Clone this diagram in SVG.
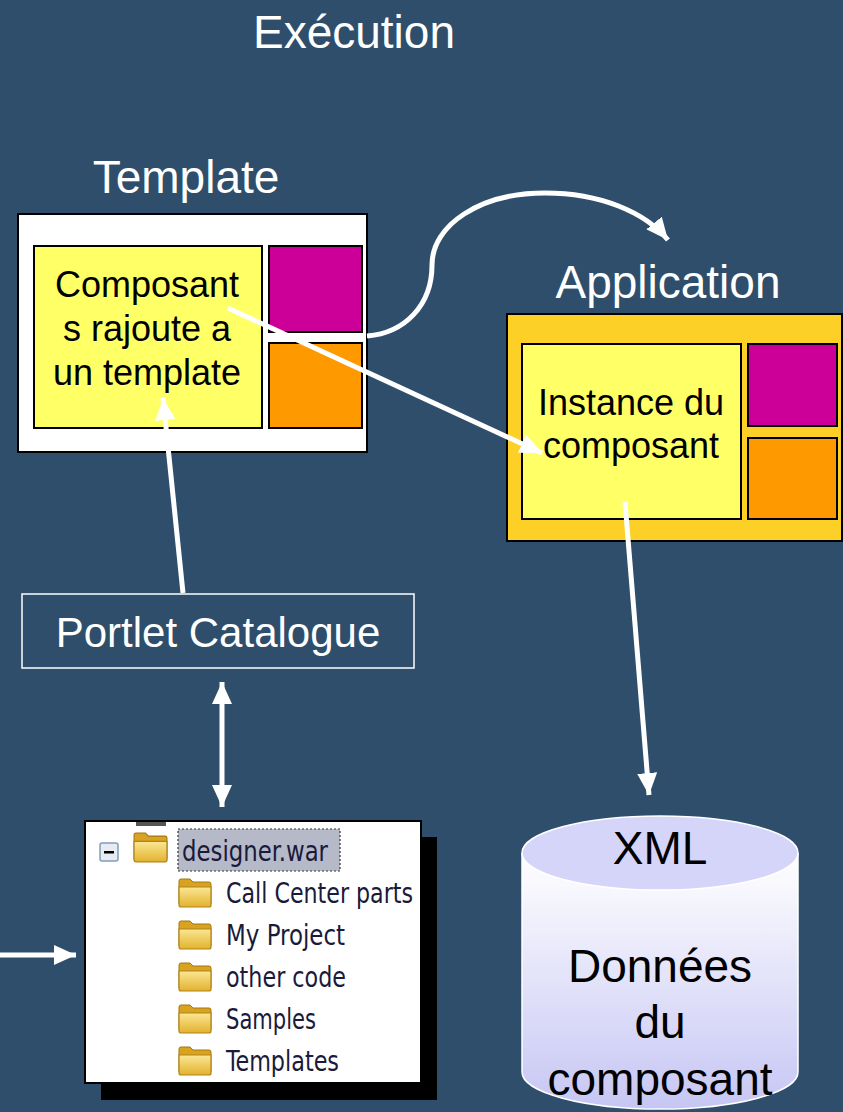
<svg xmlns="http://www.w3.org/2000/svg" width="843" height="1112" viewBox="0 0 843 1112">
<style>
.title{font-family:"Liberation Sans",Arial,sans-serif;font-size:46px;fill:#fff;text-anchor:middle}
.lbl{font-family:"Liberation Sans",Arial,sans-serif;font-size:36px;fill:#000;text-anchor:middle}
.db{font-family:"Liberation Sans",Arial,sans-serif;font-size:46px;fill:#000;text-anchor:middle}
.tree{font-family:"DejaVu Sans Condensed","DejaVu Sans",sans-serif;font-size:28px;fill:#1a1a3a}
.box{stroke:#000;stroke-width:2}
.conn{fill:none;stroke:#fff;stroke-width:5}
</style>
<defs>
<marker id="ah" markerUnits="userSpaceOnUse" markerWidth="24" markerHeight="22" viewBox="0 0 24 22" refX="22" refY="11" orient="auto-start-reverse">
<path d="M0,1 L22,11 L0,21 z" fill="#fff"/>
</marker>
<linearGradient id="cyl" x1="0" y1="0" x2="0" y2="1">
<stop offset="0" stop-color="#ffffff"/>
<stop offset="1" stop-color="#c6c6f4"/>
</linearGradient>
<linearGradient id="fold" x1="0" y1="0" x2="0" y2="1">
<stop offset="0" stop-color="#fbe795"/>
<stop offset="1" stop-color="#e2b22e"/>
</linearGradient>
<g id="folder">
<path d="M1,3 Q1,1 3,1 H12 L15,4 H31 Q33,4 33,6 V26 H1 Z" fill="#d9a21f" stroke="#a37612" stroke-width="1"/>
<path d="M1,9 H33 V27 Q33,29 31,29 H3 Q1,29 1,27 Z" fill="url(#fold)" stroke="#b0841a" stroke-width="1.2"/>
</g>
</defs>
<rect width="843" height="1112" fill="#2e4e6b"/>

<text class="title" x="354" y="48">Exécution</text>

<g id="template">
<text class="title" x="186" y="193">Template</text>
<rect class="box" x="18" y="214" width="349" height="238" fill="#fff"/>
<rect class="box" x="34" y="246" width="228" height="182" fill="#ffff66"/>
<rect class="box" x="269" y="246" width="93" height="86" fill="#cc0099"/>
<rect class="box" x="269" y="343" width="93" height="85" fill="#ff9900"/>
<text class="lbl" x="147" y="297">Composant</text>
<text class="lbl" x="147" y="341">s rajoute a</text>
<text class="lbl" x="147" y="385">un template</text>
</g>

<g id="application">
<text class="title" x="668" y="298">Application</text>
<rect class="box" x="507" y="314" width="335" height="227" fill="#fcd027"/>
<rect class="box" x="522" y="344" width="219" height="175" fill="#ffff66"/>
<rect class="box" x="748" y="344" width="89" height="82" fill="#cc0099"/>
<rect class="box" x="748" y="438" width="89" height="81" fill="#ff9900"/>
<text class="lbl" x="631" y="415">Instance du</text>
<text class="lbl" x="631" y="458">composant</text>
</g>

<g id="catalogue">
<rect x="22" y="594" width="392" height="74" fill="none" stroke="#fff" stroke-width="1.5"/>
<text x="218" y="647" font-family="'Liberation Sans',Arial,sans-serif" font-size="42" fill="#fff" text-anchor="middle">Portlet Catalogue</text>
</g>

<g id="tree">
<rect x="101" y="837" width="336" height="263" fill="#000"/>
<rect x="85" y="821" width="336" height="262" fill="#fff" stroke="#000" stroke-width="2"/>
<rect x="136" y="822" width="30" height="4" fill="#555"/>
<rect x="100" y="843" width="18" height="18" rx="2" fill="#e6ecf2" stroke="#7f9db9" stroke-width="1.5"/>
<rect x="104" y="851" width="10" height="2.5" fill="#000"/>
<g transform="translate(133,832) scale(1.03,1.03)"><use href="#folder"/></g>
<rect x="178" y="829" width="162" height="42" fill="#b6b9c8" stroke="#333" stroke-width="1.2" stroke-dasharray="2,2"/>
<text class="tree" x="182" y="861" textLength="146" lengthAdjust="spacingAndGlyphs">designer.war</text>
<use href="#folder" x="178" y="878"/>
<text class="tree" x="226" y="903" textLength="187" lengthAdjust="spacingAndGlyphs">Call Center parts</text>
<use href="#folder" x="178" y="920"/>
<text class="tree" x="226" y="945" textLength="119" lengthAdjust="spacingAndGlyphs">My Project</text>
<use href="#folder" x="178" y="962"/>
<text class="tree" x="226" y="987" textLength="120" lengthAdjust="spacingAndGlyphs">other code</text>
<use href="#folder" x="178" y="1004"/>
<text class="tree" x="226" y="1029" textLength="90" lengthAdjust="spacingAndGlyphs">Samples</text>
<use href="#folder" x="178" y="1046"/>
<text class="tree" x="226" y="1071" textLength="113" lengthAdjust="spacingAndGlyphs">Templates</text>
</g>

<g id="xml-db">
<path d="M522,853 V1072 A138,37 0 0 0 798,1072 V853" fill="url(#cyl)" stroke="#fff" stroke-width="1.5"/>
<ellipse cx="660" cy="853" rx="138" ry="37" fill="#d5d5fa" stroke="#fff" stroke-width="1.5"/>
<text class="db" x="660" y="864">XML</text>
<text class="db" x="660" y="982">Données</text>
<text class="db" x="660" y="1038">du</text>
<text class="db" x="660" y="1095">composant</text>
</g>

<g id="connectors">
<path class="conn" d="M367,336 C405,333 432,305 432,265 C432,225 480,193 545,193 C600,193 645,212 668,240" marker-end="url(#ah)"/>
<line class="conn" x1="228" y1="308" x2="542" y2="453" marker-end="url(#ah)"/>
<line class="conn" x1="183" y1="593" x2="163" y2="398" marker-end="url(#ah)"/>
<line class="conn" x1="625" y1="502" x2="649" y2="795" marker-end="url(#ah)"/>
<line class="conn" stroke-width="4" x1="222" y1="682" x2="222" y2="807" marker-start="url(#ah)" marker-end="url(#ah)"/>
<line class="conn" stroke-width="4" x1="0" y1="955" x2="76" y2="955" marker-end="url(#ah)"/>
</g>
</svg>
